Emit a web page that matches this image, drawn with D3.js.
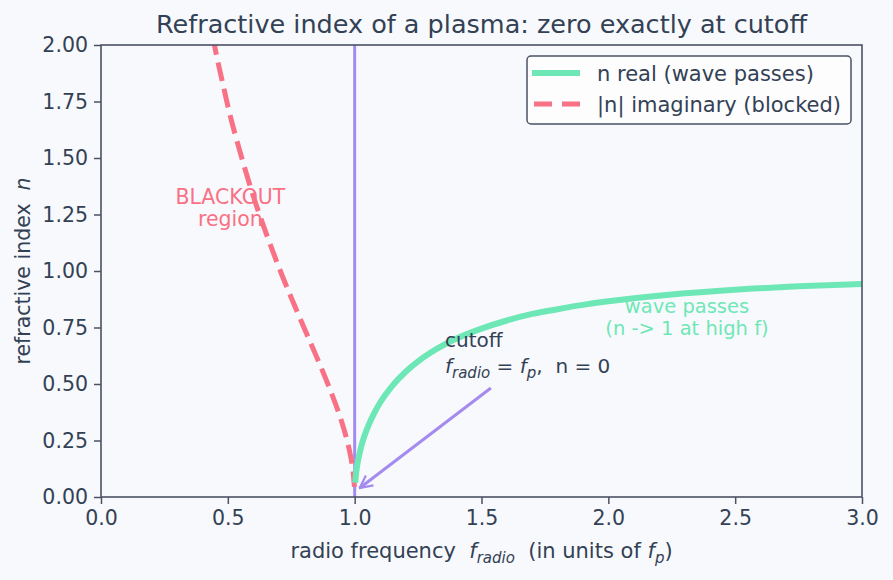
<!DOCTYPE html>
<html>
<head>
<meta charset="utf-8">
<script src="https://cdn.jsdelivr.net/npm/d3@7/dist/d3.min.js"></script>
<style>
  body { margin: 0; background: #f8f9fc; }
  text { font-family: "DejaVu Sans", sans-serif; fill: #334155; white-space: pre; }
</style>
</head>
<body>
<div id="chart"></div>
<script>
// values
const realF = [1.002, 1.005, 1.01, 1.02, 1.03, 1.05, 1.075, 1.1, 1.15, 1.2, 1.25, 1.3, 1.4, 1.5, 1.6, 1.7, 1.8, 1.9, 2.0, 2.25, 2.5, 2.75, 3.0];
const realN = [0.063, 0.10, 0.14, 0.196, 0.24, 0.305, 0.367, 0.417, 0.494, 0.553, 0.60, 0.639, 0.700, 0.745, 0.781, 0.81, 0.831, 0.850, 0.866, 0.896, 0.917, 0.932, 0.943];

const imagF = [0.44, 0.46, 0.48, 0.5, 0.55, 0.6, 0.65, 0.7, 0.75, 0.8, 0.85, 0.9, 0.93, 0.95, 0.97, 0.98, 0.99, 0.995, 0.999];
const imagN = [2.04, 1.93, 1.83, 1.73, 1.52, 1.333, 1.17, 1.02, 0.882, 0.75, 0.62, 0.484, 0.395, 0.329, 0.25, 0.203, 0.143, 0.10, 0.045];

const xTicks = [0, 0.5, 1.0, 1.5, 2.0, 2.5, 3.0];
const yTicks = [0, 0.25, 0.5, 0.75, 1.0, 1.25, 1.5, 1.75, 2.0];
const cutoffF = 1.0;

const green = "#6ee7b7", rose = "#f87185", violet = "#a48bf0", ink = "#334155", axisCol = "#4b5263";

const W = 893, H = 580;
const margin = { top: 45, right: 31, bottom: 83, left: 101 };
const width = W - margin.left - margin.right;
const height = H - margin.top - margin.bottom;

const svg = d3.select("#chart").append("svg")
    .attr("width", W).attr("height", H)
    .style("background", "#f8f9fc");

const g = svg.append("g").attr("transform", "translate(" + margin.left + "," + margin.top + ")");

const x = d3.scaleLinear().domain([0, 3]).range([0, width]);
const y = d3.scaleLinear().domain([0, 2]).range([height, 0]);

g.append("clipPath").attr("id", "clip")
    .append("rect").attr("width", width).attr("height", height);

// axes
const xAxis = g.append("g").attr("transform", "translate(0," + height + ")")
    .call(d3.axisBottom(x).tickValues(xTicks).tickFormat(d3.format(".1f")).tickSize(7).tickPadding(6));
const yAxis = g.append("g")
    .call(d3.axisLeft(y).tickValues(yTicks).tickFormat(d3.format(".2f")).tickSize(7).tickPadding(6));
[xAxis, yAxis].forEach(a => {
    a.select(".domain").remove();
    a.selectAll("line").attr("stroke", axisCol).attr("stroke-width", 1.5);
    a.selectAll("text").style("font-size", "20.5px").attr("fill", ink);
});

const plot = g.append("g").attr("clip-path", "url(#clip)");

// vertical cutoff line
plot.append("line")
    .attr("x1", x(cutoffF)).attr("x2", x(cutoffF))
    .attr("y1", 0).attr("y2", height)
    .attr("stroke", violet).attr("stroke-width", 3);

const line = d3.line().x(d => x(d[0])).y(d => y(d[1])).curve(d3.curveMonotoneX);

plot.append("path")
    .datum(imagF.map((f, i) => [f, imagN[i]]))
    .attr("d", line).attr("fill", "none")
    .attr("stroke", rose).attr("stroke-width", 5)
    .attr("stroke-dasharray", "19,8");

plot.append("path")
    .datum(realF.map((f, i) => [f, realN[i]]))
    .attr("d", line).attr("fill", "none")
    .attr("stroke", green).attr("stroke-width", 6);

// frame
g.append("rect").attr("width", width).attr("height", height)
    .attr("fill", "none").attr("stroke", axisCol).attr("stroke-width", 1.6);

// annotation arrow
svg.append("defs").append("marker")
    .attr("id", "arrow").attr("viewBox", "0 0 12 12")
    .attr("refX", 11).attr("refY", 6)
    .attr("markerWidth", 5).attr("markerHeight", 5)
    .attr("orient", "auto")
    .append("path").attr("d", "M1,1 L11,6 L1,11")
    .attr("fill", "none").attr("stroke", violet).attr("stroke-width", 1.8);

g.append("line")
    .attr("x1", x(1.537)).attr("y1", y(0.482))
    .attr("x2", x(1.02)).attr("y2", y(0.04))
    .attr("stroke", violet).attr("stroke-width", 3)
    .attr("marker-end", "url(#arrow)");

const ann = g.append("text").attr("x", x(1.356)).attr("y", y(0.665)).style("font-size", "20px");
ann.append("tspan").text("cutoff");
const ann2 = g.append("text").attr("x", x(1.356)).attr("y", y(0.55)).style("font-size", "20px");
ann2.append("tspan").attr("font-style", "italic").text("f");
ann2.append("tspan").attr("font-style", "italic").attr("dy", 5).style("font-size", "15px").text("radio");
ann2.append("tspan").attr("dy", -5).text(" = ");
ann2.append("tspan").attr("font-style", "italic").text("f");
ann2.append("tspan").attr("font-style", "italic").attr("dy", 5).style("font-size", "15px").text("p");
ann2.append("tspan").attr("dy", -5).text(",  n = 0");

// region labels
const bl = g.append("text").attr("text-anchor", "middle").style("font-size", "20.5px");
bl.append("tspan").attr("x", x(0.51)).attr("y", y(1.295)).text("BLACKOUT").style("fill", rose);
bl.append("tspan").attr("x", x(0.51)).attr("y", y(1.198)).text("region").style("fill", rose);

const wp = g.append("text").attr("text-anchor", "middle").style("font-size", "19.5px");
wp.append("tspan").attr("x", x(2.31)).attr("y", y(0.816)).text("wave passes").style("fill", green);
wp.append("tspan").attr("x", x(2.31)).attr("y", y(0.719)).text("(n -> 1 at high f)").style("fill", green);

// title
svg.append("text").attr("x", margin.left + width / 2).attr("y", 33)
    .attr("text-anchor", "middle").style("font-size", "25.5px")
    .text("Refractive index of a plasma: zero exactly at cutoff");

// x label
const xl = svg.append("text").attr("x", margin.left + width / 2).attr("y", 558)
    .attr("text-anchor", "middle").style("font-size", "21px");
xl.append("tspan").text("radio frequency  ");
xl.append("tspan").attr("font-style", "italic").text("f");
xl.append("tspan").attr("font-style", "italic").attr("dy", 5).style("font-size", "15px").text("radio");
xl.append("tspan").attr("dy", -5).text("  (in units of ");
xl.append("tspan").attr("font-style", "italic").text("f");
xl.append("tspan").attr("font-style", "italic").attr("dy", 5).style("font-size", "15px").text("p");
xl.append("tspan").attr("dy", -5).text(")");

// y label
const yl = svg.append("text")
    .attr("transform", "translate(30," + (margin.top + height / 2) + ") rotate(-90)")
    .attr("text-anchor", "middle").style("font-size", "20.5px");
yl.append("tspan").text("refractive index  ");
yl.append("tspan").attr("font-style", "italic").text("n");

// legend
const lg = svg.append("g").attr("transform", "translate(527,56)");
lg.append("rect").attr("width", 324).attr("height", 68).attr("rx", 4)
    .attr("fill", "#fdfdfe").attr("stroke", axisCol).attr("stroke-width", 1.5);
lg.append("line").attr("x1", 5).attr("x2", 53).attr("y1", 17).attr("y2", 17)
    .attr("stroke", green).attr("stroke-width", 6);
lg.append("line").attr("x1", 7).attr("x2", 53).attr("y1", 48).attr("y2", 48)
    .attr("stroke", rose).attr("stroke-width", 5).attr("stroke-dasharray", "18,10");
lg.append("text").attr("x", 70).attr("y", 25).style("font-size", "21px").text("n real (wave passes)");
lg.append("text").attr("x", 70).attr("y", 56).style("font-size", "21px").text("|n| imaginary (blocked)");
</script>
</body>
</html>
